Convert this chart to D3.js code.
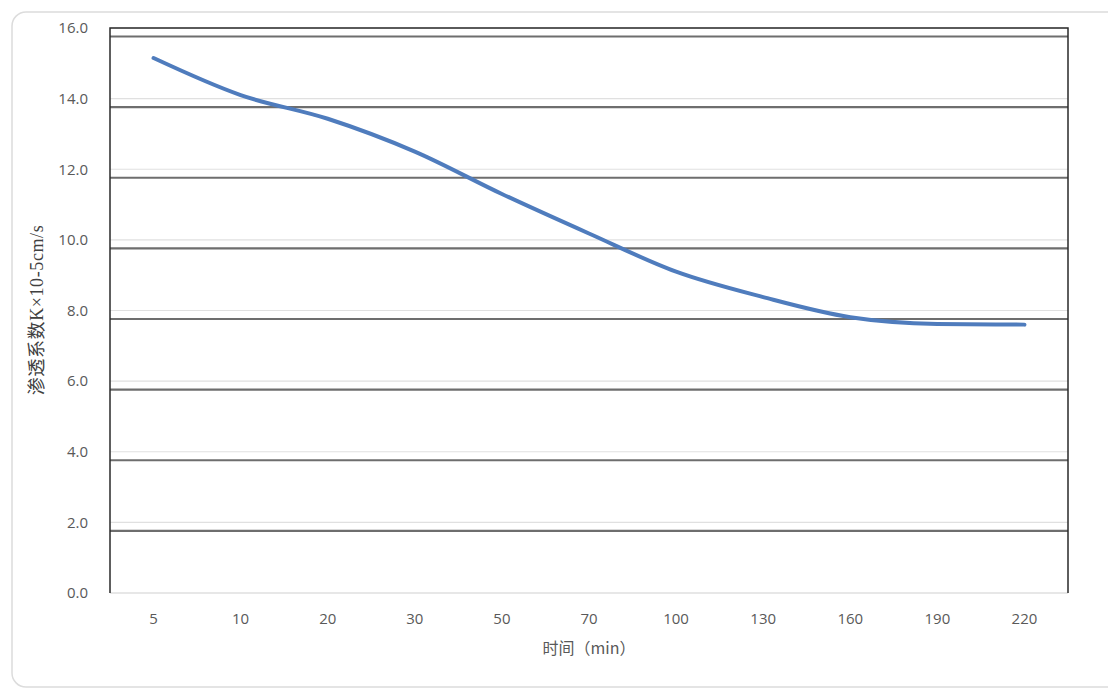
<!DOCTYPE html>
<html><head><meta charset="utf-8">
<script src="https://cdn.jsdelivr.net/npm/d3@7"></script>
<style>body{margin:0;background:#fff}svg{display:block}</style>
</head><body>
<svg id="c" width="1108" height="689"></svg>
<script>
const categories = ["5","10","20","30","50","70","100","130","160","190","220"];
const values = [15.15, 14.1, 13.43, 12.5, 11.3, 10.18, 9.1, 8.38, 7.81, 7.62, 7.6];
const yTicks = [0, 2, 4, 6, 8, 10, 12, 14, 16];
const yTitle = "渗透系数K×10-5cm/s";
const xTitle = "时间（min）";

const svg = d3.select("#c");
const L = 110, R = 1068, T = 28, B = 593;
const x = d3.scaleBand().domain(categories).range([L, R]);
const y = d3.scaleLinear().domain([0, 16]).range([B, T]);

// outer frame
svg.append("rect").attr("x", 12).attr("y", 12).attr("width", 1120).attr("height", 675)
  .attr("rx", 14).attr("fill", "none").attr("stroke", "#dcdcdc").attr("stroke-width", 1.5);

// light gridlines
svg.append("g").selectAll("line").data(yTicks.filter(d => d > 0)).join("line")
  .attr("x1", L).attr("x2", R).attr("y1", d => y(d)).attr("y2", d => y(d))
  .attr("stroke", "#e0e0e0").attr("stroke-width", 1.2);
// dark offset gridlines
svg.append("g").selectAll("line").data(yTicks.filter(d => d > 0)).join("line")
  .attr("x1", L).attr("x2", R).attr("y1", d => y(d) + 8.5).attr("y2", d => y(d) + 8.5)
  .attr("stroke", "#6e6e6e").attr("stroke-width", 2.2);

// x axis baseline
svg.append("line").attr("x1", L).attr("x2", R).attr("y1", B).attr("y2", B)
  .attr("stroke", "#d0d0d0").attr("stroke-width", 1.2);
// frame: left, top, right
svg.append("path").attr("d", `M${L},${B}V${T}H${R}V${B}`)
  .attr("fill", "none").attr("stroke", "#2a2a2a").attr("stroke-width", 1.5);

// y labels
svg.append("g").selectAll("text").data(yTicks).join("text")
  .attr("x", 88).attr("y", d => y(d)).attr("dy", "0.35em").attr("text-anchor", "end")
  .style("font-family", "'Open Sans', 'DejaVu Sans', sans-serif").style("font-size", "15px").attr("fill", "#595959")
  .text(d => d.toFixed(1));

// x labels
svg.append("g").selectAll("text").data(categories).join("text")
  .attr("x", d => x(d) + x.bandwidth() / 2).attr("y", 624).attr("text-anchor", "middle")
  .style("font-family", "'Open Sans', 'DejaVu Sans', sans-serif").style("font-size", "15px").attr("fill", "#595959")
  .text(d => d);

// titles
svg.append("text").attr("x", (L + R) / 2).attr("y", 654).attr("text-anchor", "middle")
  .style("font-family", "'Noto Sans CJK SC', sans-serif").style("font-size", "16px").attr("fill", "#595959")
  .text(xTitle);
svg.append("text").attr("transform", `translate(37,310) rotate(-90)`)
  .attr("text-anchor", "middle").attr("dy", "0.35em").attr("letter-spacing", 0.6)
  .style("font-family", "'Liberation Serif', 'DejaVu Serif', 'Noto Sans CJK SC', serif").style("font-size", "18px").attr("fill", "#404040")
  .text(yTitle);

// line
const line = d3.line().x((d, i) => x(categories[i]) + x.bandwidth() / 2).y(d => y(d)).curve(d3.curveMonotoneX);
svg.append("path").datum(values).attr("d", line).attr("fill", "none")
  .attr("stroke", "#4f7cbd").attr("stroke-width", 4).attr("stroke-linecap", "round").attr("stroke-linejoin", "round");
</script>
</body></html>
